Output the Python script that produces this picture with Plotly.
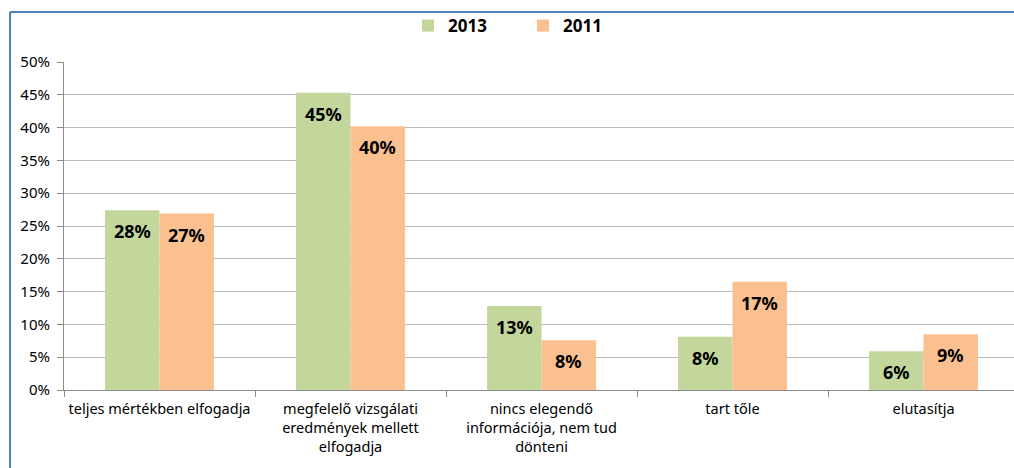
import plotly.graph_objects as go

categories = [
    "teljes mértékben elfogadja",
    "megfelelő vizsgálati<br>eredmények mellett<br>elfogadja",
    "nincs elegendő<br>információja, nem tud<br>dönteni",
    "tart tőle",
    "elutasítja",
]
series_names = ["2013", "2011"]
values_2013 = [27.4, 45.3, 12.8, 8.1, 5.9]
values_2011 = [26.9, 40.2, 7.6, 16.5, 8.5]
labels_2013 = ["28%", "45%", "13%", "8%", "6%"]
labels_2011 = ["27%", "40%", "8%", "17%", "9%"]
y_ticks = [0, 5, 10, 15, 20, 25, 30, 35, 40, 45, 50]
y_ticklabels = [f"{v}%" for v in y_ticks]

colors = ["#C3D69B", "#FAC090"]
font_family = "Noto Sans, Open Sans, DejaVu Sans, sans-serif"

W, H = 1034, 468
ML, MT, MB, MR = 64, 62, 78, 0
plot_w = W - ML - MR
plot_h = H - MT - MB
cat_px = 191.0
x_range = [-0.5, -0.5 + plot_w / cat_px]
bargap = 0.43
bar_px = cat_px * (1 - bargap) / 2

fig = go.Figure()
series = [
    (series_names[0], values_2013, labels_2013, colors[0]),
    (series_names[1], values_2011, labels_2011, colors[1]),
]
annotations = []
for i, (name, vals, labs, col) in enumerate(series):
    fig.add_trace(go.Bar(
        name=name,
        x=categories,
        y=vals,
        marker=dict(color=col, line=dict(width=0)),
        hoverinfo="skip",
    ))
    for cat, v, lab in zip(categories, vals, labs):
        annotations.append(dict(
            x=cat, y=v, xref="x", yref="y",
            text=lab, showarrow=False,
            yanchor="top", xanchor="center",
            xshift=(i - 0.5) * bar_px, yshift=-7,
            font=dict(family=font_family, size=18, color="black", weight="bold"),
        ))

fig.update_layout(
    width=W,
    height=H,
    barmode="group",
    bargap=bargap,
    bargroupgap=0,
    plot_bgcolor="white",
    paper_bgcolor="white",
    margin=dict(l=ML, r=MR, t=MT, b=MB, autoexpand=False),
    font=dict(family=font_family, size=14, color="black"),
    showlegend=True,
    legend=dict(
        orientation="h",
        x=(408 - ML) / plot_w,
        xanchor="left",
        y=(390 - 26) / plot_h,
        yanchor="middle",
        font=dict(family=font_family, size=17, color="black", weight="bold"),
        itemwidth=30,
        entrywidth=70,
        entrywidthmode="pixels",
        bgcolor="rgba(0,0,0,0)",
    ),
    xaxis=dict(
        range=x_range,
        showgrid=False,
        showline=True,
        linecolor="#8C8C8C",
        linewidth=1,
        ticks="outside",
        tickson="boundaries",
        ticklen=6,
        tickcolor="#8C8C8C",
        tickangle=0,
        ticklabelstandoff=6,
        tickfont=dict(family=font_family, size=14.5, color="black"),
        fixedrange=True,
    ),
    yaxis=dict(
        range=[0, 50],
        tickvals=y_ticks,
        ticktext=y_ticklabels,
        showgrid=True,
        gridcolor="#BBBBBB",
        gridwidth=1,
        showline=True,
        linecolor="#8C8C8C",
        linewidth=1,
        ticks="outside",
        ticklen=6,
        tickcolor="#8C8C8C",
        ticklabelstandoff=4,
        tickfont=dict(family=font_family, size=15, color="black"),
        zeroline=False,
        fixedrange=True,
    ),
    annotations=annotations,
    shapes=[
        dict(type="line", xref="paper", yref="paper",
             x0=(10 - ML) / plot_w, x1=(10 - ML) / plot_w,
             y0=(390 - 12) / plot_h, y1=(390 - 470) / plot_h,
             line=dict(color="#4F81BD", width=2)),
        dict(type="line", xref="paper", yref="paper",
             x0=(10 - ML) / plot_w, x1=1.0,
             y0=(390 - 12) / plot_h, y1=(390 - 12) / plot_h,
             line=dict(color="#4F81BD", width=2)),
    ],
)

fig.write_html(
    "out.html",
    config={"displayModeBar": False},
    post_script="document.body.style.margin='0';document.body.style.overflow='hidden';",
)
